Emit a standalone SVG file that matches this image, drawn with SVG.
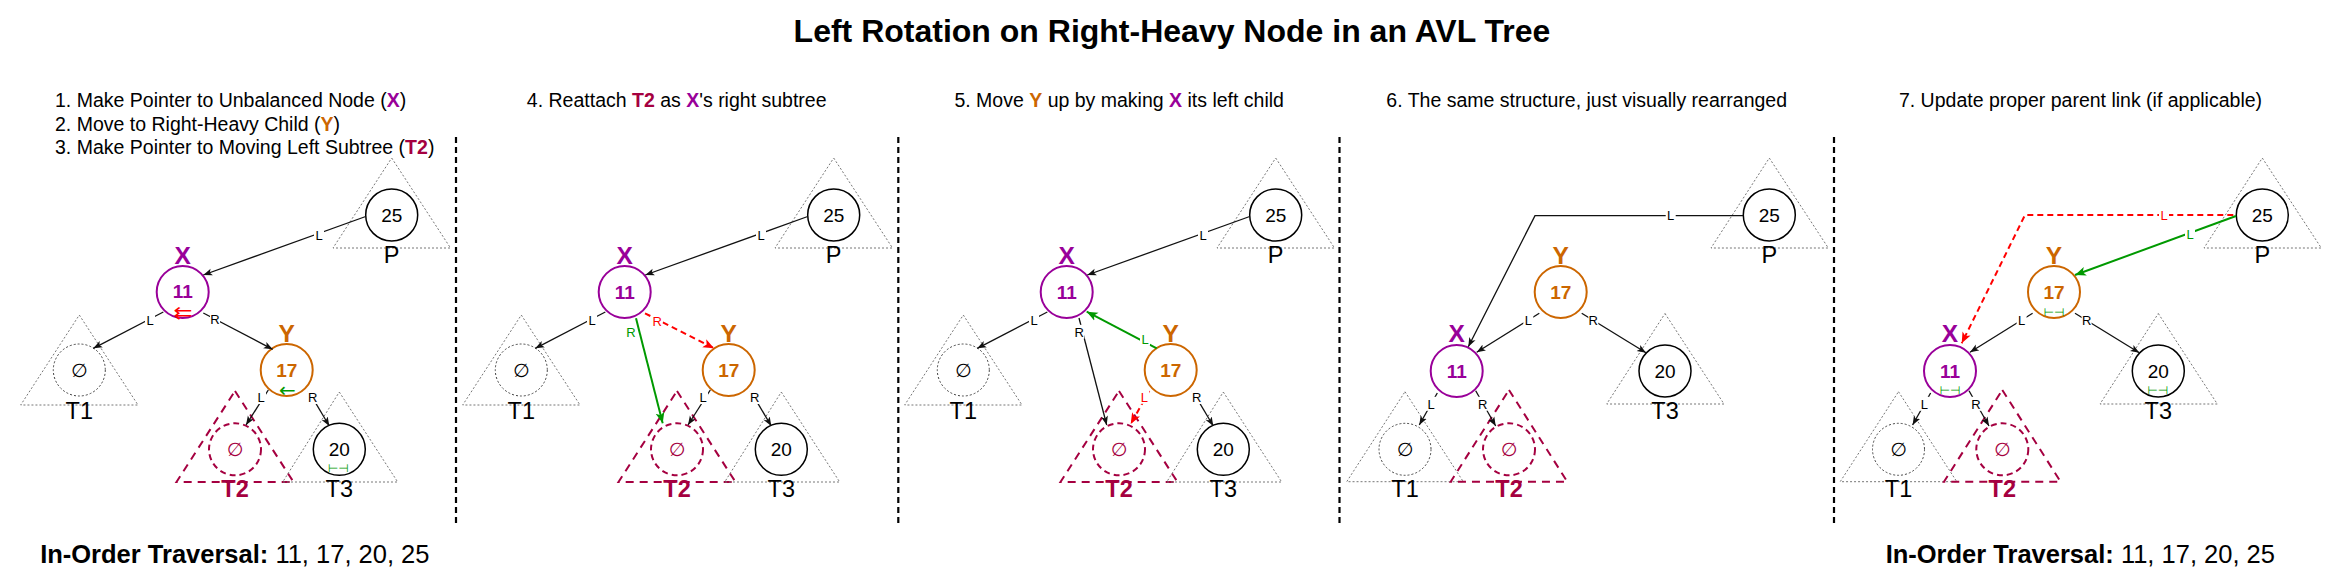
<svg xmlns="http://www.w3.org/2000/svg" width="2344" height="588" viewBox="0 0 2344 588">
<style>
text{font-family:"Liberation Sans",Arial,sans-serif;fill:#000}
.title{font-size:32px;font-weight:bold;text-anchor:middle}
.step{font-size:19.5px}
.mid{text-anchor:middle}
.b{font-weight:bold}
.px{fill:#990099}
.py{fill:#CC6600}
.pt2{fill:#A50040}
.num{font-size:19px;text-anchor:middle}
.lbl{font-size:23.5px;text-anchor:middle}
.nm{font-size:24.5px;font-weight:bold;text-anchor:middle}
.trav{font-size:25.5px;text-anchor:middle}
.el{font-size:13px;text-anchor:middle}
.lb{fill:#fff}
.elg{fill:#009900}
.elr{fill:#FF0000}
.sym{font-family:"DejaVu Sans",sans-serif;text-anchor:middle}
.sr{fill:#FF0000}
.sg{fill:#009900}
.cb{fill:#fff;stroke:#000;stroke-width:1.5}
.cx{fill:#fff;stroke:#990099;stroke-width:2}
.cy{fill:#fff;stroke:#CC6600;stroke-width:2}
.cn{fill:none;stroke:#444;stroke-width:1;stroke-dasharray:2 2}
.ct2{fill:none;stroke:#A50040;stroke-width:2;stroke-dasharray:6 4}
.tri{fill:none;stroke:#777;stroke-width:1;stroke-dasharray:2 2}
.tri2{fill:none;stroke:#A50040;stroke-width:2;stroke-dasharray:8 6}
.div{stroke:#000;stroke-width:2.2;stroke-dasharray:6 4;fill:none}
.e{fill:none;stroke:#111;stroke-width:1.3;marker-end:url(#ab)}
.eg{fill:none;stroke:#009900;stroke-width:2;marker-end:url(#ag)}
.er{fill:none;stroke:#FF0000;stroke-width:2;stroke-dasharray:6 4;marker-end:url(#ar)}
</style>
<defs>
<marker id="ab" markerUnits="userSpaceOnUse" markerWidth="10" markerHeight="8" refX="9" refY="4" orient="auto"><path d="M0,0.5 L9,4 L0,7.5 L2.2,4 Z" fill="#111"/></marker>
<marker id="ag" markerUnits="userSpaceOnUse" markerWidth="12" markerHeight="10" refX="11" refY="5" orient="auto"><path d="M0,0.5 L11,5 L0,9.5 L2.8,5 Z" fill="#009900"/></marker>
<marker id="ar" markerUnits="userSpaceOnUse" markerWidth="12" markerHeight="10" refX="11" refY="5" orient="auto"><path d="M0,0.5 L11,5 L0,9.5 L2.8,5 Z" fill="#FF0000"/></marker>
</defs>

<text class="title" x="1172" y="42">Left Rotation on Right-Heavy Node in an AVL Tree</text>

<g id="step-titles">
<text class="step" x="55" y="107.3">1. Make Pointer to Unbalanced Node (<tspan class="b px">X</tspan>)</text>
<text class="step" x="55" y="130.7">2. Move to Right-Heavy Child (<tspan class="b py">Y</tspan>)</text>
<text class="step" x="55" y="154">3. Make Pointer to Moving Left Subtree (<tspan class="b pt2">T2</tspan>)</text>
<text class="step mid" x="676.7" y="107.3">4. Reattach <tspan class="b pt2">T2</tspan> as <tspan class="b px">X</tspan>'s right subtree</text>
<text class="step mid" x="1119.2" y="107.3">5. Move <tspan class="b py">Y</tspan> up by making <tspan class="b px">X</tspan> its left child</text>
<text class="step mid" x="1586.7" y="107.3">6. The same structure, just visually rearranged</text>
<text class="step mid" x="2080.5" y="107.3">7. Update proper parent link (if applicable)</text>
</g>

<g id="dividers">
<line class="div" x1="456" y1="137" x2="456" y2="527"/>
<line class="div" x1="898.3" y1="137" x2="898.3" y2="527"/>
<line class="div" x1="1339.5" y1="137" x2="1339.5" y2="527"/>
<line class="div" x1="1834" y1="137" x2="1834" y2="527"/>
</g>

<g id="traversal">
<text class="trav" x="234.8" y="563.3"><tspan class="b">In-Order Traversal:</tspan> 11, 17, 20, 25</text>
<text class="trav" x="2080.3" y="563.3"><tspan class="b">In-Order Traversal:</tspan> 11, 17, 20, 25</text>
</g>

<!-- Panel 1 -->
<g id="p1-P"><polygon class="tri" points="391.7,158 450.5,248 333,248"/><circle class="cb" cx="391.7" cy="215" r="26"/><text class="num" x="391.7" y="221.5">25</text><text class="lbl" x="391.7" y="263">P</text></g>
<g id="p1-X"><text class="nm px" x="182.7" y="264">X</text><circle class="cx" cx="182.7" cy="292" r="26"/><text class="num b px" x="182.7" y="297.5">11</text><text class="sym sr" x="183" y="318.5" font-size="18" textLength="19" lengthAdjust="spacingAndGlyphs">⇇</text></g>
<g id="p1-T1"><polygon class="tri" points="79.3,315 138,405 20.7,405"/><circle class="cn" cx="79.3" cy="370" r="26"/><text class="sym" x="79.3" y="377" font-size="19">∅</text><text class="lbl" x="79.3" y="419.3">T1</text></g>
<g id="p1-Y"><text class="nm py" x="286.7" y="341.7">Y</text><circle class="cy" cx="286.7" cy="370" r="26"/><text class="num b py" x="286.7" y="376.5">17</text><text class="sym sg" x="287.3" y="396.5" font-size="20">←</text></g>
<g id="p1-T2"><polygon class="tri2" points="235,391 293.5,482 176.5,482"/><circle class="ct2" cx="235" cy="449.3" r="26"/><text class="sym pt2" x="235" y="456.3" font-size="19">∅</text><text class="lbl b pt2" x="235" y="497.3">T2</text></g>
<g id="p1-T3"><polygon class="tri" points="339.3,392 397.7,482 282.7,482"/><circle class="cb" cx="339.3" cy="449.3" r="26"/><text class="num" x="339.3" y="455.8">20</text><text class="sym sg" x="338.3" y="472.3" font-size="11" textLength="21" lengthAdjust="spacingAndGlyphs">⊢⊣</text><text class="lbl" x="339.3" y="497.3">T3</text></g>

<!-- Panel 2 -->
<g id="p2-P"><polygon class="tri" points="833.7,158 892.5,248 775,248"/><circle class="cb" cx="833.7" cy="215" r="26"/><text class="num" x="833.7" y="221.5">25</text><text class="lbl" x="833.7" y="263">P</text></g>
<g id="p2-X"><text class="nm px" x="624.7" y="264">X</text><circle class="cx" cx="624.7" cy="292" r="26"/><text class="num b px" x="624.7" y="298.5">11</text></g>
<g id="p2-T1"><polygon class="tri" points="521.3,315 580,405 462.7,405"/><circle class="cn" cx="521.3" cy="370" r="26"/><text class="sym" x="521.3" y="377" font-size="19">∅</text><text class="lbl" x="521.3" y="419.3">T1</text></g>
<g id="p2-Y"><text class="nm py" x="728.7" y="341.7">Y</text><circle class="cy" cx="728.7" cy="370" r="26"/><text class="num b py" x="728.7" y="376.5">17</text></g>
<g id="p2-T2"><polygon class="tri2" points="677,391 735.5,482 618.5,482"/><circle class="ct2" cx="677" cy="449.3" r="26"/><text class="sym pt2" x="677" y="456.3" font-size="19">∅</text><text class="lbl b pt2" x="677" y="497.3">T2</text></g>
<g id="p2-T3"><polygon class="tri" points="781.3,392 839.7,482 724.7,482"/><circle class="cb" cx="781.3" cy="449.3" r="26"/><text class="num" x="781.3" y="455.8">20</text><text class="lbl" x="781.3" y="497.3">T3</text></g>

<!-- Panel 3 -->
<g id="p3-P"><polygon class="tri" points="1275.7,158 1334.5,248 1217,248"/><circle class="cb" cx="1275.7" cy="215" r="26"/><text class="num" x="1275.7" y="221.5">25</text><text class="lbl" x="1275.7" y="263">P</text></g>
<g id="p3-X"><text class="nm px" x="1066.7" y="264">X</text><circle class="cx" cx="1066.7" cy="292" r="26"/><text class="num b px" x="1066.7" y="298.5">11</text></g>
<g id="p3-T1"><polygon class="tri" points="963.3,315 1022,405 904.7,405"/><circle class="cn" cx="963.3" cy="370" r="26"/><text class="sym" x="963.3" y="377" font-size="19">∅</text><text class="lbl" x="963.3" y="419.3">T1</text></g>
<g id="p3-Y"><text class="nm py" x="1170.7" y="341.7">Y</text><circle class="cy" cx="1170.7" cy="370" r="26"/><text class="num b py" x="1170.7" y="376.5">17</text></g>
<g id="p3-T2"><polygon class="tri2" points="1119,391 1177.5,482 1060.5,482"/><circle class="ct2" cx="1119" cy="449.3" r="26"/><text class="sym pt2" x="1119" y="456.3" font-size="19">∅</text><text class="lbl b pt2" x="1119" y="497.3">T2</text></g>
<g id="p3-T3"><polygon class="tri" points="1223.3,392 1281.7,482 1166.7,482"/><circle class="cb" cx="1223.3" cy="449.3" r="26"/><text class="num" x="1223.3" y="455.8">20</text><text class="lbl" x="1223.3" y="497.3">T3</text></g>

<!-- Panel 4 -->
<g id="p4-P"><polygon class="tri" points="1769.3,158 1828.3,248 1711,248"/><circle class="cb" cx="1769.3" cy="215" r="26"/><text class="num" x="1769.3" y="221.5">25</text><text class="lbl" x="1769.3" y="263">P</text></g>
<g id="p4-Y"><text class="nm py" x="1560.7" y="263.5">Y</text><circle class="cy" cx="1560.7" cy="292" r="26"/><text class="num b py" x="1560.7" y="298.5">17</text></g>
<g id="p4-X"><text class="nm px" x="1456.7" y="342">X</text><circle class="cx" cx="1456.7" cy="371" r="26"/><text class="num b px" x="1456.7" y="377.5">11</text></g>
<g id="p4-T3"><polygon class="tri" points="1665,313.5 1724,404 1606.7,404"/><circle class="cb" cx="1665" cy="371" r="26"/><text class="num" x="1665" y="377.5">20</text><text class="lbl" x="1665" y="418.5">T3</text></g>
<g id="p4-T1"><polygon class="tri" points="1405,391.7 1463.3,481.7 1346.7,481.7"/><circle class="cn" cx="1405" cy="449.3" r="26"/><text class="sym" x="1405" y="456.3" font-size="19">∅</text><text class="lbl" x="1405" y="497.3">T1</text></g>
<g id="p4-T2"><polygon class="tri2" points="1509,390 1567.3,481.7 1450.7,481.7"/><circle class="ct2" cx="1509" cy="449.3" r="26"/><text class="sym pt2" x="1509" y="456.3" font-size="19">∅</text><text class="lbl b pt2" x="1509" y="497.3">T2</text></g>

<!-- Panel 5 -->
<g id="p5-P"><polygon class="tri" points="2262.3,158 2321.3,248 2204,248"/><circle class="cb" cx="2262.3" cy="215" r="26"/><text class="num" x="2262.3" y="221.5">25</text><text class="lbl" x="2262.3" y="263">P</text></g>
<g id="p5-Y"><text class="nm py" x="2054" y="263.5">Y</text><circle class="cy" cx="2054" cy="292" r="26"/><text class="num b py" x="2054" y="298.5">17</text><text class="sym sg" x="2054" y="315.8" font-size="11" textLength="21" lengthAdjust="spacingAndGlyphs">⊢⊣</text></g>
<g id="p5-X"><text class="nm px" x="1950" y="342">X</text><circle class="cx" cx="1950" cy="371" r="26"/><text class="num b px" x="1950" y="377.5">11</text><text class="sym sg" x="1950" y="394.3" font-size="11" textLength="21" lengthAdjust="spacingAndGlyphs">⊢⊣</text></g>
<g id="p5-T3"><polygon class="tri" points="2158.3,313.5 2217.3,404 2100,404"/><circle class="cb" cx="2158.3" cy="371" r="26"/><text class="num" x="2158.3" y="377.5">20</text><text class="sym sg" x="2157.7" y="394.3" font-size="11" textLength="21" lengthAdjust="spacingAndGlyphs">⊢⊣</text><text class="lbl" x="2158.3" y="418.5">T3</text></g>
<g id="p5-T1"><polygon class="tri" points="1898.5,391.7 1956.8,481.7 1840.2,481.7"/><circle class="cn" cx="1898.5" cy="449.3" r="26"/><text class="sym" x="1898.5" y="456.3" font-size="19">∅</text><text class="lbl" x="1898.5" y="497.3">T1</text></g>
<g id="p5-T2"><polygon class="tri2" points="2002.3,390 2060.6,481.7 1944,481.7"/><circle class="ct2" cx="2002.3" cy="449.3" r="26"/><text class="sym pt2" x="2002.3" y="456.3" font-size="19">∅</text><text class="lbl b pt2" x="2002.3" y="497.3">T2</text></g>

<g id="connectors">
<!-- panel 1 -->
<path class="e" d="M365.7,216.5 L203.3,275"/><rect class="lb" x="314" y="227.5" width="10" height="14"/><text class="el" x="319" y="239.5">L</text>
<path class="e" d="M163.3,312 L93.3,348.3"/><rect class="lb" x="145" y="312.5" width="10" height="14"/><text class="el" x="150" y="324.5">L</text>
<path class="e" d="M203.3,313 L272.7,349.3"/><rect class="lb" x="210" y="312" width="10" height="14"/><text class="el" x="215" y="324">R</text>
<path class="e" d="M268.3,390 L246,425"/><rect class="lb" x="256" y="390" width="10" height="14"/><text class="el" x="261" y="402">L</text>
<path class="e" d="M308.3,390.7 L329.3,426"/><rect class="lb" x="307.7" y="390" width="10" height="14"/><text class="el" x="312.7" y="402">R</text>
<!-- panel 2 -->
<path class="e" d="M807.7,216.5 L645.3,275"/><rect class="lb" x="756" y="227.5" width="10" height="14"/><text class="el" x="761" y="239.5">L</text>
<path class="e" d="M605.3,312 L535.3,348.3"/><rect class="lb" x="587" y="312.5" width="10" height="14"/><text class="el" x="592" y="324.5">L</text>
<path class="er" d="M645,313.3 L714,348.3"/><rect class="lb" x="652.3" y="314.2" width="10" height="14"/><text class="el elr" x="657.3" y="326.2">R</text>
<path class="eg" d="M636,318.3 L662.7,423.3"/><rect class="lb" x="626" y="324.8" width="10" height="14"/><text class="el elg" x="631" y="336.8">R</text>
<path class="e" d="M710.3,390 L688,425"/><rect class="lb" x="698" y="390" width="10" height="14"/><text class="el" x="703" y="402">L</text>
<path class="e" d="M750.3,390.7 L771.3,426"/><rect class="lb" x="749.7" y="390" width="10" height="14"/><text class="el" x="754.7" y="402">R</text>
<!-- panel 3 -->
<path class="e" d="M1249.7,216.5 L1087.3,275"/><rect class="lb" x="1198" y="227.5" width="10" height="14"/><text class="el" x="1203" y="239.5">L</text>
<path class="e" d="M1047.3,312 L977.3,348.3"/><rect class="lb" x="1029" y="312.5" width="10" height="14"/><text class="el" x="1034" y="324.5">L</text>
<path class="e" d="M1079,318 L1106.7,425"/><rect class="lb" x="1074.3" y="324.8" width="10" height="14"/><text class="el" x="1079.3" y="336.8">R</text>
<path class="eg" d="M1156.7,348.3 L1086.7,311.7"/><rect class="lb" x="1140" y="331.8" width="10" height="14"/><text class="el elg" x="1145" y="343.8">L</text>
<path class="er" d="M1149.3,390.7 L1130.7,424"/><rect class="lb" x="1139.3" y="389.8" width="10" height="14"/><text class="el elr" x="1144.3" y="401.8">L</text>
<path class="e" d="M1192.3,390.7 L1213.3,426"/><rect class="lb" x="1191.7" y="390" width="10" height="14"/><text class="el" x="1196.7" y="402">R</text>
<!-- panel 4 -->
<path class="e" d="M1743.3,215.7 L1535,215.7 L1468.3,346.7"/><rect class="lb" x="1665.7" y="208.2" width="10" height="14"/><text class="el" x="1670.7" y="220.2">L</text>
<path class="e" d="M1539.3,313.3 L1476.7,352.3"/><rect class="lb" x="1523.3" y="312.5" width="10" height="14"/><text class="el" x="1528.3" y="324.5">L</text>
<path class="e" d="M1581.7,313.3 L1646,352.7"/><rect class="lb" x="1588.3" y="312.5" width="10" height="14"/><text class="el" x="1593.3" y="324.5">R</text>
<path class="e" d="M1437.3,393 L1419.3,425"/><rect class="lb" x="1426" y="396.8" width="10" height="14"/><text class="el" x="1431" y="408.8">L</text>
<path class="e" d="M1475.7,390.7 L1495.7,426"/><rect class="lb" x="1477.7" y="396.8" width="10" height="14"/><text class="el" x="1482.7" y="408.8">R</text>
<!-- panel 5 -->
<path class="er" d="M2233.3,215 L2025,215 L1961.7,343.3"/><rect class="lb" x="2159" y="208.2" width="10" height="14"/><text class="el elr" x="2164" y="220.2">L</text>
<path class="eg" d="M2236,216 L2075,275"/><rect class="lb" x="2185" y="226.5" width="10" height="14"/><text class="el elg" x="2190" y="238.5">L</text>
<path class="e" d="M2032.6,313.3 L1970,352.3"/><rect class="lb" x="2016.6" y="312.5" width="10" height="14"/><text class="el" x="2021.6" y="324.5">L</text>
<path class="e" d="M2075,313.3 L2139.3,352.7"/><rect class="lb" x="2081.6" y="312.5" width="10" height="14"/><text class="el" x="2086.6" y="324.5">R</text>
<path class="e" d="M1930.6,393 L1912.6,425"/><rect class="lb" x="1919.3" y="396.8" width="10" height="14"/><text class="el" x="1924.3" y="408.8">L</text>
<path class="e" d="M1969,390.7 L1989,426"/><rect class="lb" x="1971" y="396.8" width="10" height="14"/><text class="el" x="1976" y="408.8">R</text>
</g>
</svg>
